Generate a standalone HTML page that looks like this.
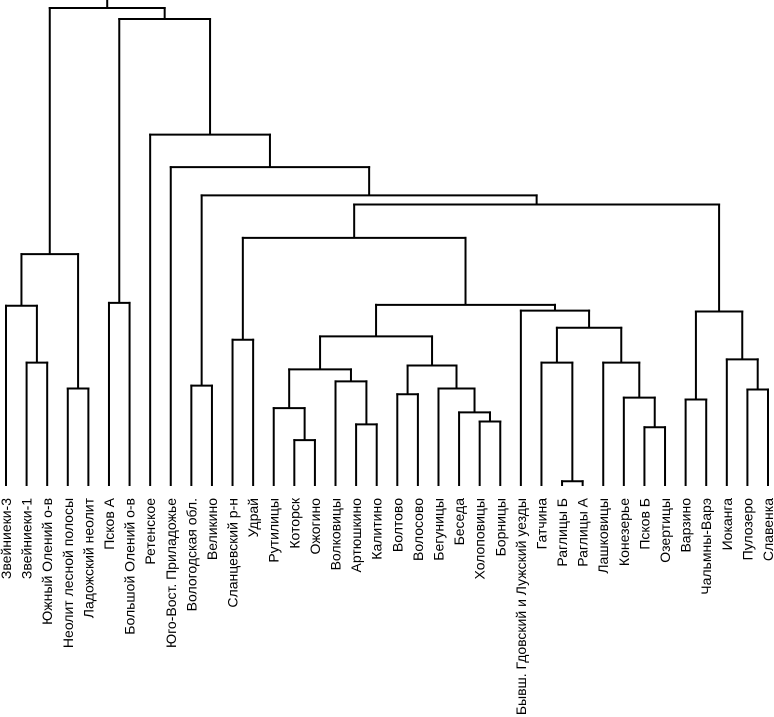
<!DOCTYPE html>
<html><head><meta charset="utf-8"><style>
html,body{margin:0;padding:0;background:#fff;}
svg{display:block;}
text{font-family:"Liberation Sans",sans-serif;font-size:14px;fill:#000;}
</style></head>
<body>
<svg id="chart" width="774" height="717" xmlns="http://www.w3.org/2000/svg"></svg>
<script>
const leafLabels = ["Звейниеки-3","Звейниеки-1","Южный Олений о-в","Неолит лесной полосы","Ладожский неолит","Псков А","Большой Олений о-в","Ретенское","Юго-Вост. Приладожье","Вологодская обл.","Великино","Сланцевский р-н","Удрай","Рутилицы","Которск","Ожогино","Волковицы","Артюшкино","Калитино","Волтово","Волосово","Бегуницы","Беседа","Холоповицы","Борницы","Бывш. Гдовский и Лужский уезды","Гатчина","Раглицы Б","Раглицы А","Лашковицы","Конезерье","Псков Б","Озертицы","Варзино","Чальмны-Варэ","Иоканга","Пулозеро","Славенка"];
// merges: [left child, right child, distance]; children are leaf indices or "n#" earlier merges
const mergeLeft  = [1,0,3,"n1",5,9,11,14,13,17,16,"n8",19,23,22,21,"n12","n11",27,26,31,30,29,"n19",25,"n17","n6",33,36,35,"n27","n26","n5",8,7,"n4","n3"];
const mergeRight = [2,"n0",4,"n2",6,10,12,15,"n7",18,"n9","n10",20,24,"n13","n14","n15","n16",28,"n18",32,"n20","n21","n22","n23","n24","n25",34,37,"n28","n29","n30","n31","n32","n33","n34","n35"];
const mergeDist  = [25.8,37.7,20.4,48.5,38.3,21.0,30.6,9.6,16.3,12.9,21.9,24.4,19.2,13.5,15.4,20.4,25.2,31.3,1.0,25.8,12.3,18.5,25.8,33.1,36.7,37.9,51.9,18.1,20.2,26.5,36.5,58.9,60.8,66.7,73.5,97.7,100.0];

const svg = document.getElementById('chart');
const NS = 'http://www.w3.org/2000/svg';
const baseY = 486, topY = 8, rootTopY = 0;
function xScale(i){ return 6 + i*(768-6)/(leafLabels.length-1); }
function yScale(d){ return baseY - d*(baseY-topY)/100; }
const pos = {};
function getPos(c){
  if (typeof c === 'number') return {x:xScale(c), y:baseY};
  return pos[c];
}
function line(x1,y1,x2,y2,name){
  const l = document.createElementNS(NS,'line');
  l.setAttribute('x1',x1);l.setAttribute('y1',y1);l.setAttribute('x2',x2);l.setAttribute('y2',y2);
  l.setAttribute('stroke','#000');l.setAttribute('stroke-width','2');
  
  
  svg.appendChild(l);
}
mergeDist.forEach((d,i)=>{
  const a = getPos(mergeLeft[i]), b = getPos(mergeRight[i]);
  const y = yScale(d);
  line(a.x, a.y, a.x, y - 1, 'branch-n'+i+'-left');
  line(b.x, b.y, b.x, y - 1, 'branch-n'+i+'-right');
  line(a.x-1, y, b.x+1, y, 'link-n'+i);
  pos['n'+i] = {x:(a.x+b.x)/2, y:y};
});
const root = pos['n'+(mergeDist.length-1)];
line(root.x, root.y, root.x, rootTopY, 'root-stem');
leafLabels.forEach((t,i)=>{
  const x = xScale(i)+5, y = 498;
  const tx = document.createElementNS(NS,'text');
  tx.setAttribute('x',x);tx.setAttribute('y',y);
  tx.setAttribute('text-anchor','end');
  tx.setAttribute('transform','rotate(-90 '+x+' '+y+')');
  tx.textContent = t;
  
  
  svg.appendChild(tx);
});
</script>
</body></html>
